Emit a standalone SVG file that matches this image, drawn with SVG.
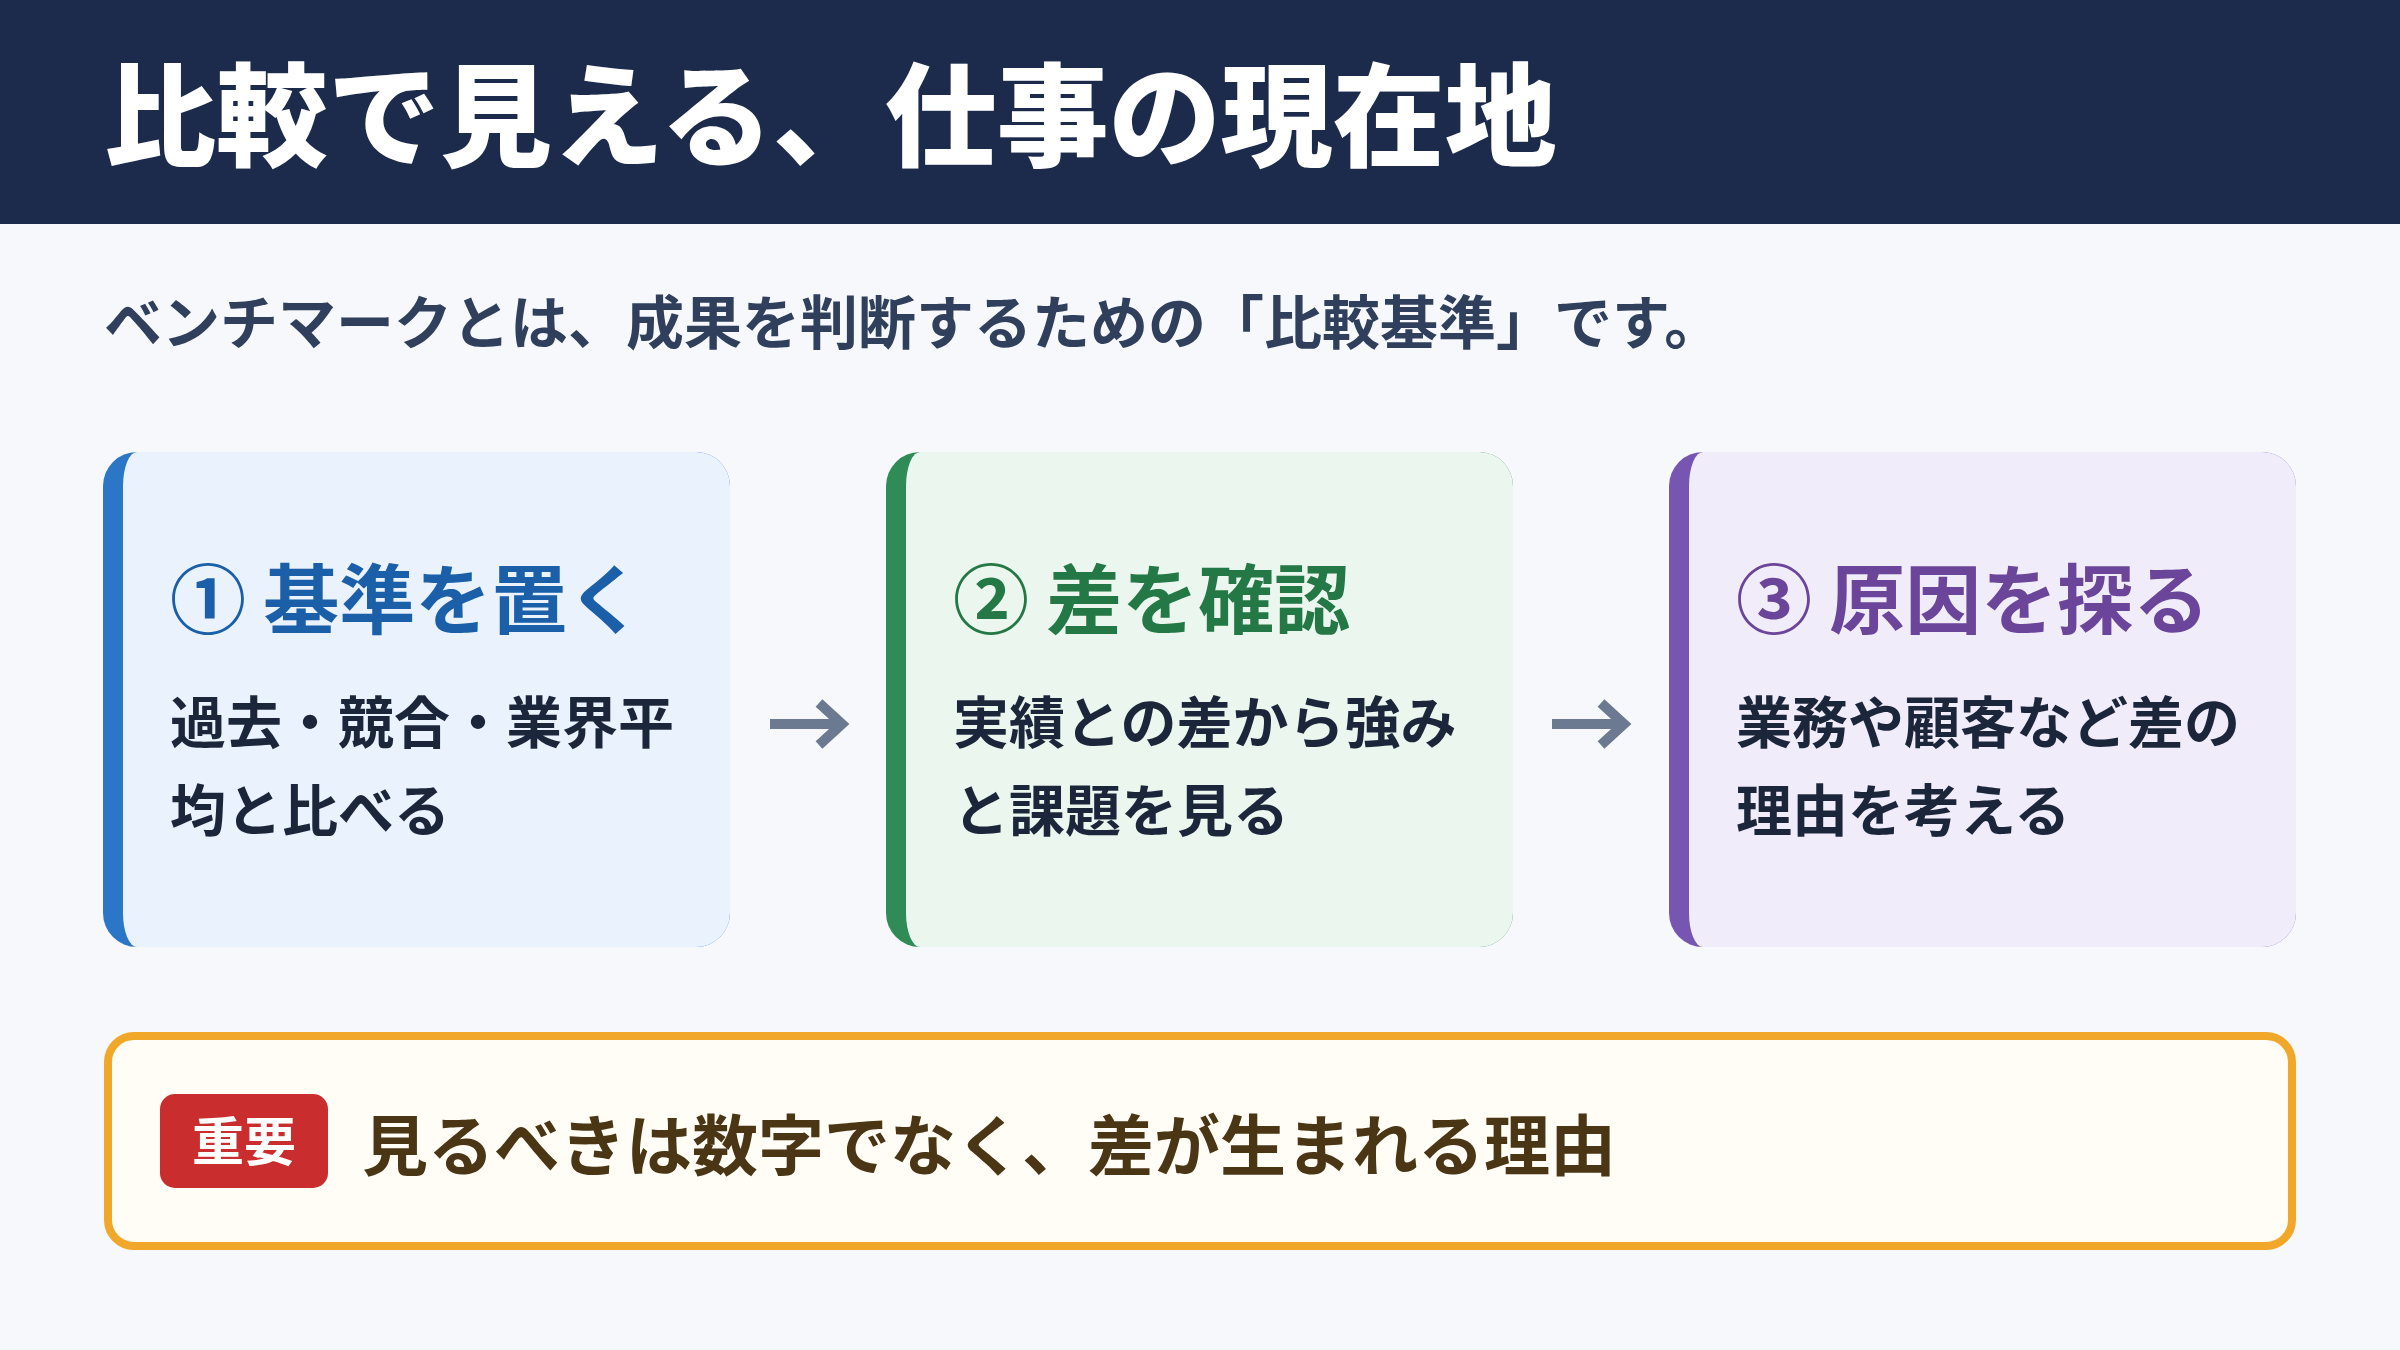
<svg xmlns="http://www.w3.org/2000/svg" width="2400" height="1350" viewBox="0 0 2400 1350">
  <style>
    text { font-family: "Noto Sans CJK JP", "Noto Sans CJK SC", sans-serif; font-weight: 700; }
    .title { fill: #ffffff; font-size: 112px; font-weight: 900; }
    .sub { fill: #2f3f5c; font-size: 58px; }
    .head { font-size: 76px; }
    .body { fill: #1b263b; font-size: 56px; }
    .conn { stroke: #6b7a90; stroke-width: 10; fill: none; }
  </style>
  <rect x="0" y="0" width="2400" height="1350" fill="#f6f8fc"/>
  <g id="header">
    <rect x="0" y="0" width="2400" height="224" fill="#1c2a4b"/>
    <text class="title" x="104" y="158">比較で見える、仕事の現在地</text>
  </g>
  <g id="subtitle">
    <text class="sub" x="104" y="344">ベンチマークとは、成果を判断するための「比較基準」です。</text>
  </g>

  <g id="card1">
    <rect x="103" y="452" width="627" height="495" rx="34" fill="#2b76c6"/>
    <path d="M137,452 H696 A34,34 0 0 1 730,486 V913 A34,34 0 0 1 696,947 H137 A14,34 0 0 1 123,913 V486 A14,34 0 0 1 137,452 Z" fill="#eaf2fe"/>
    <text class="head" x="170" y="628" fill="#1b5fa8">① 基準を置く</text>
    <text class="body" x="170" y="743">過去・競合・業界平</text>
    <text class="body" x="170" y="831">均と比べる</text>
  </g>

  <g id="card2">
    <rect x="886" y="452" width="627" height="495" rx="34" fill="#2f8c56"/>
    <path d="M920,452 H1479 A34,34 0 0 1 1513,486 V913 A34,34 0 0 1 1479,947 H920 A14,34 0 0 1 906,913 V486 A14,34 0 0 1 920,452 Z" fill="#ebf6ee"/>
    <text class="head" x="953" y="628" fill="#237845">② 差を確認</text>
    <text class="body" x="953" y="743">実績との差から強み</text>
    <text class="body" x="953" y="831">と課題を見る</text>
  </g>

  <g id="card3">
    <rect x="1669" y="452" width="627" height="495" rx="34" fill="#7756b2"/>
    <path d="M1703,452 H2262 A34,34 0 0 1 2296,486 V913 A34,34 0 0 1 2262,947 H1703 A14,34 0 0 1 1689,913 V486 A14,34 0 0 1 1703,452 Z" fill="#f1ecfa"/>
    <text class="head" x="1736" y="628" fill="#6a4599">③ 原因を探る</text>
    <text class="body" x="1736" y="743">業務や顧客など差の</text>
    <text class="body" x="1736" y="831">理由を考える</text>
  </g>

  <g id="connectors">
    <path class="conn" d="M770,724 H841"/>
    <path class="conn" d="M819,703 L842,724 L819,745"/>
    <path class="conn" d="M1552,724 H1623"/>
    <path class="conn" d="M1601,703 L1624,724 L1601,745"/>
  </g>

  <g id="note">
    <rect x="108" y="1036" width="2184" height="210" rx="26" fill="#fffdf5" stroke="#f0a72a" stroke-width="8"/>
    <rect x="160" y="1094" width="168" height="94" rx="15" fill="#c92d2e"/>
    <text x="244" y="1161" font-size="52" fill="#ffffff" text-anchor="middle">重要</text>
    <text x="362" y="1170" font-size="66" fill="#4a3514">見るべきは数字でなく、差が生まれる理由</text>
  </g>
</svg>
